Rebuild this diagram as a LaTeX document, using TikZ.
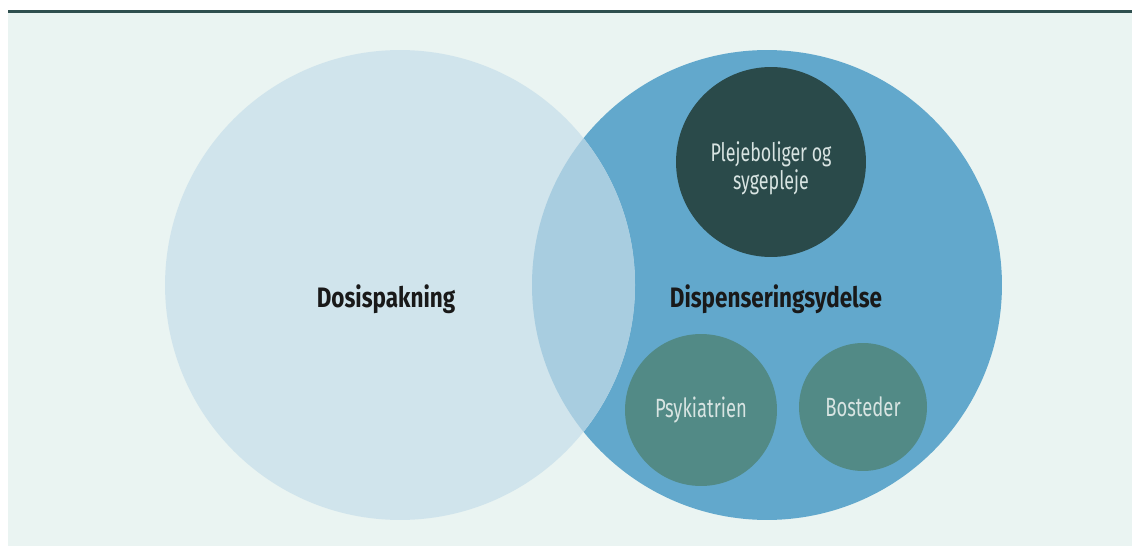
\documentclass[tikz,border=0pt]{standalone}
\usepackage{fontspec}
\setmainfont{Fira Sans}
\newfontfamily\condbold[FakeStretch=0.8]{Fira Sans Bold}
\newfontfamily\condlight[FakeStretch=0.7]{Fira Sans}
\usepackage{tikz}
\usetikzlibrary{positioning}
\usepackage{xcolor}

\definecolor{panelbg}{HTML}{EAF4F2}
\definecolor{rulecol}{HTML}{2F4F4F}
\definecolor{dosblue}{HTML}{D0E4EC}
\definecolor{dispblue}{HTML}{62A8CC}
\definecolor{lensblue}{HTML}{A8CDE0}
\definecolor{darkteal}{HTML}{2A4A4A}
\definecolor{midteal}{HTML}{528A86}
\definecolor{softtext}{HTML}{D8E4E2}

\begin{document}
\begin{tikzpicture}[x=0.02cm, y=-0.02cm,
    every node/.style={inner sep=0pt},
    bigset/.style={circle, minimum size=9.4cm},
    subset/.style={circle, fill=midteal, font=\condlight\fontsize{15}{16}\selectfont, text=softtext, align=center},
    setlabel/.style={font=\condbold\fontsize{16}{19}\selectfont, text=black!90}]
        \useasboundingbox (0,0) rectangle (1132,547);
        % Background panel and top rule
        \fill[panelbg] (8,12) rectangle (1132,546);
        \draw[rulecol, line width=2pt] (8,11.5) -- (1132,11.5);

        % Main sets
        \node[bigset, fill=dispblue] (disp) at (767,285) {};
        \node[bigset, fill=dosblue] (dos) at (400,285) {};

        % Overlap
        \begin{scope}
            \clip (dos.center) circle[radius=235];
            \fill[lensblue] (disp.center) circle[radius=235];
        \end{scope}

        \node[setlabel] (doslabel) at (386,299) {Dosispakning};
        \node[setlabel] (displabel) at (776,299) {Dispenseringsydelse};

        % Sub groups
        \node[subset, fill=darkteal, minimum size=3.8cm] (pleje) at (771,162) {\raisebox{-7pt}[0pt][0pt]{\parbox{3cm}{\centering\condlight\fontsize{14.5}{16}\selectfont Plejeboliger og\\sygepleje}}};
        \node[subset, minimum size=3.04cm] (psyk) at (701,410) {Psykiatrien};
        \node[subset, minimum size=2.56cm] (bost) at (863,407) {Bosteder};
    \end{tikzpicture}
\end{document}
